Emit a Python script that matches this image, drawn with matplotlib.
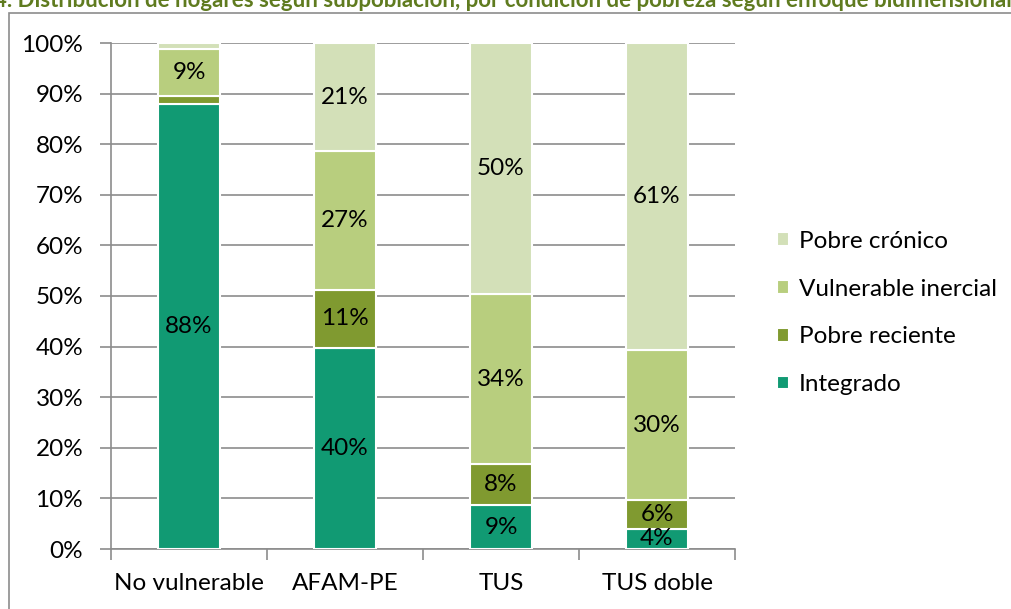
import numpy as np
import matplotlib.pyplot as plt
from matplotlib.patches import Rectangle

# ======================
# DATA
# ======================

categories = ["No vulnerable", "AFAM-PE", "TUS", "TUS doble"]
integrado = [88.0, 39.8, 8.6, 4.0]
pobre_reciente = [1.5, 11.4, 8.1, 5.6]
vulnerable_inercial = [9.3, 27.4, 33.7, 29.8]
pobre_cronico = [1.2, 21.4, 49.6, 60.6]

series_names = ["Integrado", "Pobre reciente", "Vulnerable inercial", "Pobre crónico"]
colors = ["#119A73", "#809A30", "#B8CE7E", "#D3E0B8"]

title = ("4. Distribución de hogares según subpoblación, por condición de pobreza "
         "según enfoque bidimensional")

plt.rcParams["font.family"] = ["Lato", "DejaVu Sans"]
FS = 17.5

fig = plt.figure(figsize=(10.12, 6.09), dpi=100)

# chart frame (cut by the image edges)
fig.patches.append(Rectangle((9 / 1012, -0.1), 1.2, 1 - 13 / 609 + 0.1,
                             transform=fig.transFigure, fill=False,
                             edgecolor="#8C8C8C", linewidth=1.2))

# title is cut at the top edge, as in the source image
fig.text(-6 / 1012, 1 - 7 / 609, title, fontsize=16, fontweight="bold",
         color="#5F7B1F", ha="left", va="baseline")

ax = fig.add_axes([111 / 1012, 60 / 609, 624 / 1012, 506 / 609])

x = np.arange(len(categories))
bottom = np.zeros(len(categories))
all_series = [integrado, pobre_reciente, vulnerable_inercial, pobre_cronico]
handles = []
for vals, name, col in zip(all_series, series_names, colors):
    vals = np.array(vals)
    bars = ax.bar(x, vals, 0.4, bottom=bottom, color=col, edgecolor="white",
                  linewidth=1.5, label=name, zorder=3)
    handles.append(bars)
    for xi, b, v in zip(x, bottom, vals):
        if v >= 4:
            ax.text(xi, b + v / 2, f"{round(v):.0f}%", ha="center", va="center",
                    fontsize=FS, color="black", zorder=4)
    bottom += vals

ax.set_xlim(-0.5, 3.5)
ax.set_ylim(0, 100)
ax.set_yticks(np.arange(0, 101, 10))
ax.set_yticklabels([f"{v}%" for v in range(0, 101, 10)], fontsize=FS)
ax.yaxis.grid(True, color="#8C8C8C", linewidth=1.2, zorder=0)
ax.set_axisbelow(True)

ax.set_xticks(np.arange(-0.5, 3.6, 1))
ax.set_xticklabels([])
ax.set_xticks(x, minor=True)
ax.set_xticklabels(categories, minor=True, fontsize=FS)
ax.tick_params(axis="x", which="minor", length=0, pad=17)
ax.tick_params(axis="x", which="major", length=8, color="#8C8C8C", width=1.2)
ax.tick_params(axis="y", length=8, color="#8C8C8C", width=1.2, pad=12)

for side in ["top", "right"]:
    ax.spines[side].set_visible(False)
for side in ["left", "bottom"]:
    ax.spines[side].set_color("#8C8C8C")
    ax.spines[side].set_linewidth(1.2)

fig.legend(handles[::-1], series_names[::-1], loc="center left",
           bbox_to_anchor=(755 / 1012, 1 - 313 / 609), frameon=False,
           fontsize=FS, handlelength=0.5, handleheight=0.5, handletextpad=0.4,
           labelspacing=1.1)

fig.savefig("out.png", dpi=100)
